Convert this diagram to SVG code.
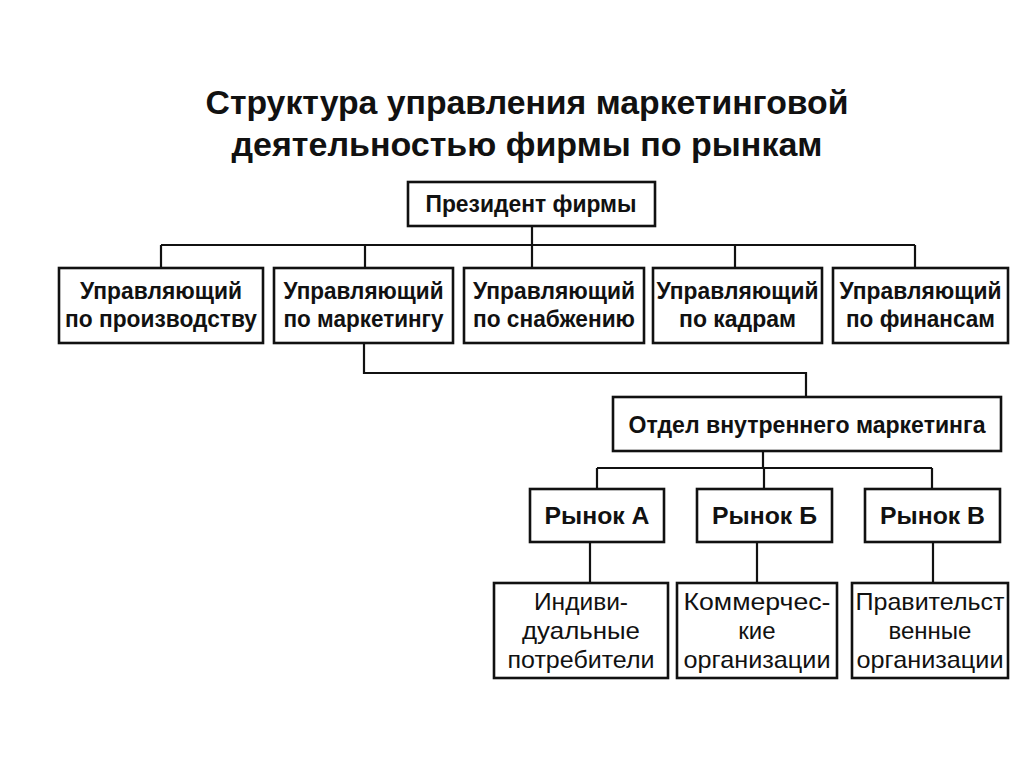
<svg xmlns="http://www.w3.org/2000/svg" width="1024" height="767" viewBox="0 0 1024 767">
<style>
.box{fill:#fff;stroke:#111;stroke-width:2.6}
.ln{fill:none;stroke:#111;stroke-width:2.2}
.t{font-family:"Liberation Sans","Arial",sans-serif;font-weight:bold;fill:#111;text-anchor:middle}
.r{font-family:"Liberation Sans","Arial",sans-serif;font-weight:normal;fill:#111;text-anchor:middle;font-size:24px}
.m{font-size:23px}
</style>
<rect width="1024" height="767" fill="#fff"/>
<g id="title">
<text class="t" x="527" y="114" font-size="33" textLength="643" lengthAdjust="spacingAndGlyphs">Структура управления маркетинговой</text>
<text class="t" x="527" y="156" font-size="33" textLength="591" lengthAdjust="spacingAndGlyphs">деятельностью фирмы по рынкам</text>
</g>
<g id="connectors">
<path class="ln" d="M532 226V245M161 245H915M161 245V268M365 245V268M532 245V268M735 245V268M915 245V268"/>
<path class="ln" d="M364 343V373H806V397"/>
<path class="ln" d="M763 451V468M597 468H932M597 468V489M764 468V489M932 468V489"/>
<path class="ln" d="M590 542V583M757 542V583M933 542V583"/>
</g>
<g id="president">
<rect class="box" x="408" y="182" width="247" height="44"/>
<text class="t m" x="531" y="212" textLength="211" lengthAdjust="spacingAndGlyphs">Президент фирмы</text>
</g>
<g id="mgr-production">
<rect class="box" x="59" y="268" width="204" height="75"/>
<text class="t m" x="161" y="299" textLength="162" lengthAdjust="spacingAndGlyphs">Управляющий</text>
<text class="t m" x="161" y="327" textLength="192" lengthAdjust="spacingAndGlyphs">по производству</text>
</g>
<g id="mgr-marketing">
<rect class="box" x="274" y="268" width="179" height="75"/>
<text class="t m" x="363.5" y="299" textLength="160" lengthAdjust="spacingAndGlyphs">Управляющий</text>
<text class="t m" x="363.5" y="327" textLength="160" lengthAdjust="spacingAndGlyphs">по маркетингу</text>
</g>
<g id="mgr-supply">
<rect class="box" x="464" y="268" width="180" height="75"/>
<text class="t m" x="554" y="299" textLength="162" lengthAdjust="spacingAndGlyphs">Управляющий</text>
<text class="t m" x="554" y="327" textLength="162" lengthAdjust="spacingAndGlyphs">по снабжению</text>
</g>
<g id="mgr-hr">
<rect class="box" x="653" y="268" width="169" height="75"/>
<text class="t m" x="737.5" y="299" textLength="162" lengthAdjust="spacingAndGlyphs">Управляющий</text>
<text class="t m" x="737.5" y="327" textLength="117" lengthAdjust="spacingAndGlyphs">по кадрам</text>
</g>
<g id="mgr-finance">
<rect class="box" x="833" y="268" width="175" height="75"/>
<text class="t m" x="920.5" y="299" textLength="162" lengthAdjust="spacingAndGlyphs">Управляющий</text>
<text class="t m" x="920.5" y="327" textLength="149" lengthAdjust="spacingAndGlyphs">по финансам</text>
</g>
<g id="dept">
<rect class="box" x="613" y="397" width="388" height="54"/>
<text class="t m" x="807" y="433" textLength="357" lengthAdjust="spacingAndGlyphs">Отдел внутреннего маркетинга</text>
</g>
<g id="market-a">
<rect class="box" x="530" y="489" width="134" height="53"/>
<text class="t m" x="597" y="524" textLength="105" lengthAdjust="spacingAndGlyphs">Рынок А</text>
</g>
<g id="market-b">
<rect class="box" x="697" y="489" width="135" height="53"/>
<text class="t m" x="764.5" y="524" textLength="105" lengthAdjust="spacingAndGlyphs">Рынок Б</text>
</g>
<g id="market-v">
<rect class="box" x="865" y="489" width="135" height="53"/>
<text class="t m" x="932.5" y="524" textLength="105" lengthAdjust="spacingAndGlyphs">Рынок В</text>
</g>
<g id="individuals">
<rect class="box" x="494" y="583" width="174" height="95"/>
<text class="r" x="581" y="610" textLength="94" lengthAdjust="spacingAndGlyphs">Индиви-</text>
<text class="r" x="581" y="639" textLength="118" lengthAdjust="spacingAndGlyphs">дуальные</text>
<text class="r" x="581" y="668" textLength="147" lengthAdjust="spacingAndGlyphs">потребители</text>
</g>
<g id="commercial">
<rect class="box" x="677" y="583" width="160" height="95"/>
<text class="r" x="757" y="610" textLength="147" lengthAdjust="spacingAndGlyphs">Коммерчес-</text>
<text class="r" x="757" y="639">кие</text>
<text class="r" x="757" y="668" textLength="147" lengthAdjust="spacingAndGlyphs">организации</text>
</g>
<g id="government">
<rect class="box" x="852" y="583" width="156" height="95"/>
<text class="r" x="930" y="610" textLength="149" lengthAdjust="spacingAndGlyphs">Правительст</text>
<text class="r" x="930" y="639">венные</text>
<text class="r" x="930" y="668" textLength="147" lengthAdjust="spacingAndGlyphs">организации</text>
</g>
</svg>
